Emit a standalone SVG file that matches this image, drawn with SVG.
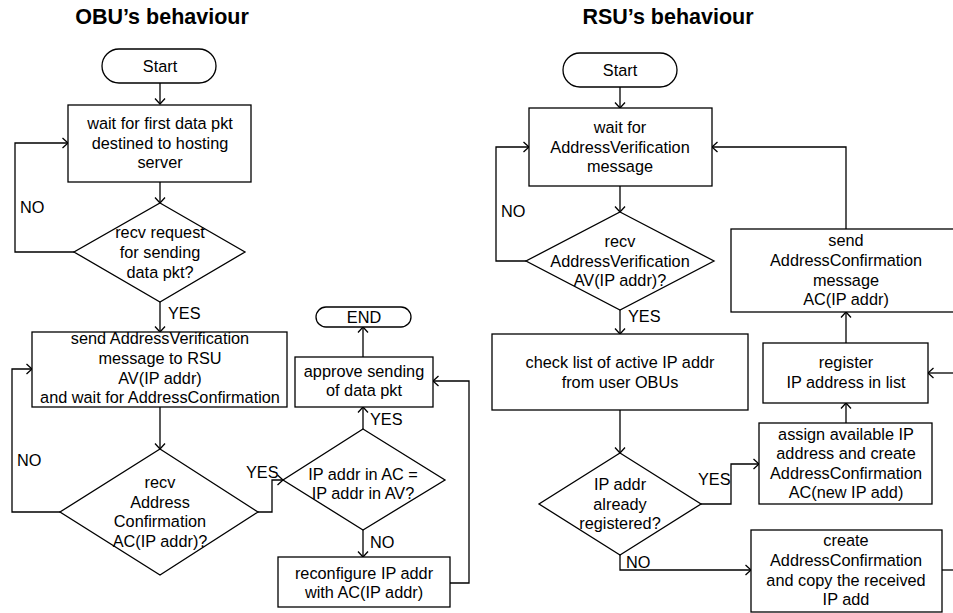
<svg xmlns="http://www.w3.org/2000/svg" width="953" height="613" viewBox="0 0 953 613">
<style>
.s{fill:#fff;stroke:#000;stroke-width:1.3}
.c{fill:none;stroke:#000;stroke-width:1.3}
text{font-family:"Liberation Sans",Arial,sans-serif;font-size:16.3px;fill:#000}
.m{text-anchor:middle}
.t{font-size:21.5px;font-weight:bold;text-anchor:middle}
</style>
<defs>
<marker id="a" markerUnits="userSpaceOnUse" viewBox="0 0 10 12" markerWidth="10" markerHeight="12" refX="6.5" refY="6" orient="auto">
<path d="M1,1 L6.5,6 L1,11" fill="none" stroke="#000" stroke-width="1.3"/>
</marker>
</defs>
<rect width="953" height="613" fill="#fff"/>
<text id="obu-title" class="t" x="162" y="24">OBU’s behaviour</text>
<text id="rsu-title" class="t" x="668" y="24">RSU’s behaviour</text>

<g id="connectors">
<path class="c" d="M160,83 V104" marker-end="url(#a)"/>
<path class="c" d="M160,182 V203" marker-end="url(#a)"/>
<path class="c" d="M74,252 H15 V143 H68" marker-end="url(#a)"/>
<path class="c" d="M160,302 V332" marker-end="url(#a)"/>
<path class="c" d="M160,407 V449" marker-end="url(#a)"/>
<path class="c" d="M60,512 H12 V369 H32" marker-end="url(#a)"/>
<path class="c" d="M258,512 H272 V480 H283" marker-end="url(#a)"/>
<path class="c" d="M363,429 V407" marker-end="url(#a)"/>
<path class="c" d="M363,357 V327" marker-end="url(#a)"/>
<path class="c" d="M363,530 V557" marker-end="url(#a)"/>
<path class="c" d="M450,583 H469 V381 H433" marker-end="url(#a)"/>
<path class="c" d="M620,87 V108" marker-end="url(#a)"/>
<path class="c" d="M620,186 V212" marker-end="url(#a)"/>
<path class="c" d="M526,261 H496 V147 H529" marker-end="url(#a)"/>
<path class="c" d="M846,229 V147 H712" marker-end="url(#a)"/>
<path class="c" d="M620,310 V334" marker-end="url(#a)"/>
<path class="c" d="M620,410 V453" marker-end="url(#a)"/>
<path class="c" d="M701,504 H731 V464 H759" marker-end="url(#a)"/>
<path class="c" d="M846,423 V403" marker-end="url(#a)"/>
<path class="c" d="M846,343 V312" marker-end="url(#a)"/>
<path class="c" d="M955,373 H928" marker-end="url(#a)"/>
<path class="c" d="M620,555 V570 H751" marker-end="url(#a)"/>
<path class="c" d="M942,570 H955"/>
<text x="20" y="213">NO</text>
<text x="168" y="319">YES</text>
<text x="17" y="466">NO</text>
<text x="246" y="478">YES</text>
<text x="370" y="425">YES</text>
<text x="370" y="548">NO</text>
<text x="501" y="217">NO</text>
<text x="628" y="322">YES</text>
<text x="698" y="485">YES</text>
<text x="626" y="568">NO</text>
</g>

<g id="obu-start">
<rect class="s" x="102" y="49" width="114" height="34" rx="17"/>
<text class="m" x="160" y="72">Start</text>
</g>
<g id="obu-wait">
<rect class="s" x="68" y="105" width="183" height="77"/>
<text class="m" x="160" y="129">wait for first data pkt</text>
<text class="m" x="160" y="148.5">destined to hosting</text>
<text class="m" x="160" y="168">server</text>
</g>
<g id="obu-recv-request">
<polygon class="s" points="160,203 245,252 160,302 74,252"/>
<text class="m" x="160" y="238">recv request</text>
<text class="m" x="160" y="258">for sending</text>
<text class="m" x="160" y="278">data pkt?</text>
</g>
<g id="obu-send-av">
<rect class="s" x="32" y="332" width="255" height="75"/>
<text class="m" x="160" y="344">send AddressVerification</text>
<text class="m" x="160" y="364">message to RSU</text>
<text class="m" x="160" y="384">AV(IP addr)</text>
<text class="m" x="160" y="403">and wait for AddressConfirmation</text>
</g>
<g id="obu-recv-ac">
<polygon class="s" points="160,449 258,512 160,575 60,512"/>
<text class="m" x="160" y="488">recv</text>
<text class="m" x="160" y="508">Address</text>
<text class="m" x="160" y="527">Confirmation</text>
<text class="m" x="160" y="547">AC(IP addr)?</text>
</g>
<g id="obu-compare">
<polygon class="s" points="363,429 445,480 363,530 283,480"/>
<text class="m" x="363" y="480">IP addr in AC =</text>
<text class="m" x="363" y="499">IP addr in AV?</text>
</g>
<g id="obu-approve">
<rect class="s" x="295" y="357" width="138" height="50"/>
<text class="m" x="364" y="377">approve sending</text>
<text class="m" x="364" y="396">of data pkt</text>
</g>
<g id="obu-end">
<rect class="s" x="316" y="307" width="95" height="20" rx="10"/>
<text class="m" x="364" y="323">END</text>
</g>
<g id="obu-reconfigure">
<rect class="s" x="278" y="557" width="172" height="50"/>
<text class="m" x="364" y="579">reconfigure IP addr</text>
<text class="m" x="364" y="598">with AC(IP addr)</text>
</g>

<g id="rsu-start">
<rect class="s" x="563" y="53" width="114" height="34" rx="17"/>
<text class="m" x="620" y="76">Start</text>
</g>
<g id="rsu-wait">
<rect class="s" x="529" y="108" width="183" height="78"/>
<text class="m" x="620" y="133">wait for</text>
<text class="m" x="620" y="153">AddressVerification</text>
<text class="m" x="620" y="172">message</text>
</g>
<g id="rsu-recv-av">
<polygon class="s" points="620,212 714,261 620,310 526,261"/>
<text class="m" x="620" y="247">recv</text>
<text class="m" x="620" y="267">AddressVerification</text>
<text class="m" x="620" y="286">AV(IP addr)?</text>
</g>
<g id="rsu-send-ac">
<rect class="s" x="731" y="229" width="232" height="83"/>
<text class="m" x="846" y="246">send</text>
<text class="m" x="846" y="266">AddressConfirmation</text>
<text class="m" x="846" y="286">message</text>
<text class="m" x="846" y="305">AC(IP addr)</text>
</g>
<g id="rsu-check">
<rect class="s" x="492" y="334" width="256" height="76"/>
<text class="m" x="620" y="368">check list of active IP addr</text>
<text class="m" x="620" y="388">from user OBUs</text>
</g>
<g id="rsu-registered">
<polygon class="s" points="620,453 701,504 620,555 539,504"/>
<text class="m" x="620" y="490">IP addr</text>
<text class="m" x="620" y="510">already</text>
<text class="m" x="620" y="529">registered?</text>
</g>
<g id="rsu-register">
<rect class="s" x="763" y="343" width="165" height="60"/>
<text class="m" x="846" y="368">register</text>
<text class="m" x="846" y="388">IP address in list</text>
</g>
<g id="rsu-assign">
<rect class="s" x="759" y="423" width="173" height="81"/>
<text class="m" x="846" y="440">assign available IP</text>
<text class="m" x="846" y="459">address and create</text>
<text class="m" x="846" y="479">AddressConfirmation</text>
<text class="m" x="846" y="498">AC(new IP add)</text>
</g>
<g id="rsu-create">
<rect class="s" x="751" y="530" width="191" height="82"/>
<text class="m" x="846" y="546">create</text>
<text class="m" x="846" y="566">AddressConfirmation</text>
<text class="m" x="846" y="586">and copy the received</text>
<text class="m" x="846" y="605">IP add</text>
</g>
</svg>
